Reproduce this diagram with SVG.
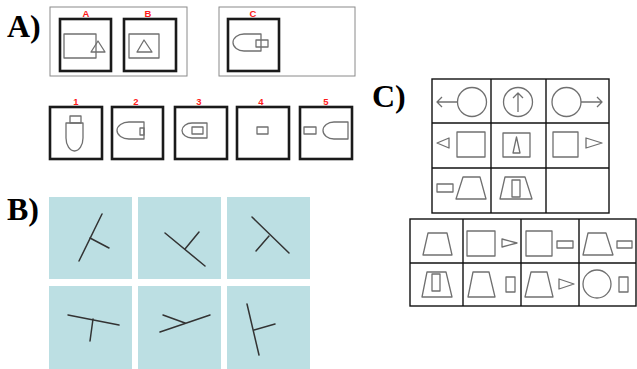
<svg xmlns="http://www.w3.org/2000/svg" width="637" height="369" viewBox="0 0 637 369">
  <style>
    .panel { font-family: "Liberation Serif", "Times New Roman", serif; font-weight: bold; font-size: 32px; fill: #000; }
    .tag { font-family: "Liberation Sans", Arial, sans-serif; font-weight: bold; font-size: 9.5px; fill: #ff1a1a; text-anchor: middle; }
    .frame { fill: #fff; stroke: #8a8a8a; stroke-width: 1; }
    .box { fill: #fff; stroke: #1a1a1a; stroke-width: 2.6; }
    .sh { fill: none; stroke: #707070; stroke-width: 1.3; stroke-linejoin: round; }
    .tile { fill: #bcdfe3; }
    .stick { stroke: #333; stroke-width: 1.5; stroke-linecap: round; }
    .grid { fill: none; stroke: #111; stroke-width: 1.4; }
  </style>
  <rect width="637" height="369" fill="#fff"/>

  <!-- Part A -->
  <g id="partA">
    <text class="panel" x="7" y="37">A)</text>
    <rect class="frame" x="50" y="7" width="137" height="69"/>
    <rect class="frame" x="219" y="7" width="136" height="69"/>

    <g id="figA">
      <text class="tag" x="86" y="17">A</text>
      <rect class="box" x="60" y="19" width="51" height="52"/>
      <rect class="sh" x="64" y="34" width="32" height="24"/>
      <path class="sh" d="M98,41 L105,52 L91,52 Z"/>
    </g>
    <g id="figB">
      <text class="tag" x="148" y="17">B</text>
      <rect class="box" x="124" y="19" width="52" height="52"/>
      <rect class="sh" x="129" y="34" width="30" height="24"/>
      <path class="sh" d="M144,40 L152,52 L137,52 Z"/>
    </g>
    <g id="figC">
      <text class="tag" x="253" y="17">C</text>
      <rect class="box" x="228" y="19" width="51" height="52"/>
      <path class="sh" d="M261,34 H244 A11,8.5 0 0 0 244,51 H261 Z"/>
      <rect class="sh" x="256" y="40" width="12" height="7"/>
    </g>

    <g id="opt1">
      <text class="tag" x="76" y="105">1</text>
      <rect class="box" x="50" y="107" width="52" height="52"/>
      <rect class="sh" x="70" y="116" width="11" height="7"/>
      <path class="sh" d="M66,123 H83 V138 A8.5,13 0 0 1 66,138 Z"/>
    </g>
    <g id="opt2">
      <text class="tag" x="136" y="105">2</text>
      <rect class="box" x="112" y="107" width="51" height="52"/>
      <path class="sh" d="M144,122 H129 A12,8.5 0 0 0 129,139 H144 Z"/>
      <rect class="sh" x="140" y="128" width="4" height="7"/>
    </g>
    <g id="opt3">
      <text class="tag" x="199" y="105">3</text>
      <rect class="box" x="175" y="107" width="52" height="52"/>
      <path class="sh" d="M207,123 H192 A10,7.5 0 0 0 192,138 H207 Z"/>
      <rect class="sh" x="192" y="127" width="11" height="7"/>
    </g>
    <g id="opt4">
      <text class="tag" x="261" y="105">4</text>
      <rect class="box" x="237" y="107" width="52" height="52"/>
      <rect class="sh" x="257" y="127" width="11" height="7"/>
    </g>
    <g id="opt5">
      <text class="tag" x="326" y="105">5</text>
      <rect class="box" x="300" y="107" width="52" height="52"/>
      <rect class="sh" x="304" y="127" width="12" height="7"/>
      <path class="sh" d="M348,122 H334 A11,8.5 0 0 0 334,139 H348 Z"/>
    </g>
  </g>

  <!-- Part B -->
  <g id="partB">
    <text class="panel" x="7" y="220">B)</text>
    <g id="t1">
      <rect class="tile" x="49" y="197" width="83" height="82"/>
      <line class="stick" x1="79" y1="261" x2="102" y2="214"/>
      <line class="stick" x1="90" y1="238" x2="109" y2="248"/>
    </g>
    <g id="t2">
      <rect class="tile" x="138" y="197" width="83" height="82"/>
      <line class="stick" x1="165" y1="233" x2="205" y2="266"/>
      <line class="stick" x1="185" y1="249" x2="199" y2="232"/>
    </g>
    <g id="t3">
      <rect class="tile" x="227" y="197" width="83" height="82"/>
      <line class="stick" x1="252" y1="217" x2="289" y2="253"/>
      <line class="stick" x1="269" y1="236" x2="256" y2="251"/>
    </g>
    <g id="t4">
      <rect class="tile" x="49" y="286" width="83" height="83"/>
      <line class="stick" x1="68" y1="315" x2="119" y2="325"/>
      <line class="stick" x1="93" y1="319" x2="90" y2="341"/>
    </g>
    <g id="t5">
      <rect class="tile" x="138" y="286" width="83" height="83"/>
      <line class="stick" x1="160" y1="332" x2="210" y2="315"/>
      <line class="stick" x1="163" y1="315" x2="185" y2="323"/>
    </g>
    <g id="t6">
      <rect class="tile" x="227" y="286" width="83" height="83"/>
      <line class="stick" x1="247" y1="304" x2="259" y2="355"/>
      <line class="stick" x1="254" y1="330" x2="275" y2="324"/>
    </g>
  </g>

  <!-- Part C -->
  <g id="partC">
    <text class="panel" x="372" y="107">C)</text>

    <g id="matrix">
      <rect class="grid" x="432" y="79" width="177" height="134"/>
      <line class="grid" x1="491" y1="79" x2="491" y2="213"/>
      <line class="grid" x1="546" y1="79" x2="546" y2="213"/>
      <line class="grid" x1="432" y1="123" x2="609" y2="123"/>
      <line class="grid" x1="432" y1="168" x2="609" y2="168"/>

      <!-- row 1 -->
      <circle class="sh" cx="472" cy="102" r="14.5"/>
      <path class="sh" d="M457,102 H437 M442,97 L437,102 L442,107"/>
      <circle class="sh" cx="518" cy="102" r="14.5"/>
      <path class="sh" d="M518,112 V93 M513,98 L518,93 L523,98"/>
      <circle class="sh" cx="566.5" cy="102" r="14.5"/>
      <path class="sh" d="M581,102 H602 M597,97 L602,102 L597,107"/>

      <!-- row 2 -->
      <path class="sh" d="M437,143 L449,138 L449,148 Z"/>
      <rect class="sh" x="457" y="132" width="28" height="25"/>
      <rect class="sh" x="503" y="133" width="27" height="24"/>
      <path class="sh" d="M516.5,137 L520,153 L513,153 Z"/>
      <rect class="sh" x="553" y="132" width="25" height="25"/>
      <path class="sh" d="M586,138 L602,143 L586,148 Z"/>

      <!-- row 3 -->
      <rect class="sh" x="437" y="184" width="16" height="8"/>
      <path class="sh" d="M463,177 H480 L486,199 H456 Z"/>
      <path class="sh" d="M505,177 H525 L532,199 H500 Z"/>
      <rect class="sh" x="512" y="180" width="8" height="17"/>
    </g>

    <g id="answers">
      <rect class="grid" x="410" y="219" width="226" height="87"/>
      <line class="grid" x1="463" y1="219" x2="463" y2="306"/>
      <line class="grid" x1="521" y1="219" x2="521" y2="306"/>
      <line class="grid" x1="579" y1="219" x2="579" y2="306"/>
      <line class="grid" x1="410" y1="263" x2="636" y2="263"/>

      <!-- row 1 -->
      <path class="sh" d="M428,233 H447 L452,255 H423 Z"/>
      <rect class="sh" x="467" y="231" width="28" height="25"/>
      <path class="sh" d="M502,239 L517,243 L502,247 Z"/>
      <rect class="sh" x="526" y="231" width="26" height="25"/>
      <rect class="sh" x="557" y="241" width="16" height="7"/>
      <path class="sh" d="M588,233 H606 L613,255 H583 Z"/>
      <rect class="sh" x="617" y="241" width="15" height="7"/>

      <!-- row 2 -->
      <path class="sh" d="M427,272 H446 L452,297 H422 Z"/>
      <rect class="sh" x="432" y="274" width="8" height="17"/>
      <path class="sh" d="M473,272 H489 L495,297 H468 Z"/>
      <rect class="sh" x="506" y="277" width="9" height="15"/>
      <path class="sh" d="M531,272 H547 L553,297 H525 Z"/>
      <path class="sh" d="M559,279 L574,284 L559,289 Z"/>
      <circle class="sh" cx="597" cy="284" r="14"/>
      <rect class="sh" x="619" y="277" width="9" height="15"/>
    </g>
  </g>
</svg>
